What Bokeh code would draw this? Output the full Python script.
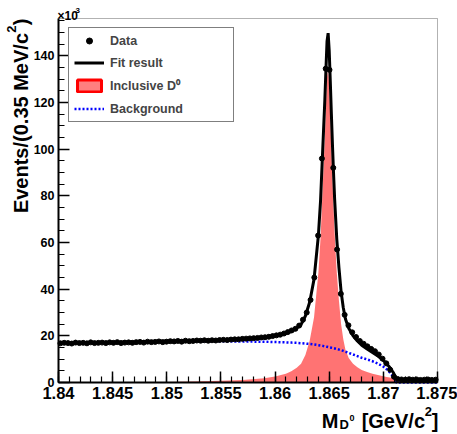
import numpy as np
from bokeh.plotting import figure
from bokeh.models import (FixedTicker, CustomJSTickFormatter, Label, Legend, LegendItem,
                          Range1d, BoxAnnotation)
from bokeh.embed import file_html
from bokeh.resources import INLINE

# ---- data (units of 10^3 events per 0.35 MeV/c^2 bin) ----
bin_lo = 1.84
bin_w = 0.00035
data_y = [16.8, 17.0, 16.9, 16.7, 17.1, 16.9, 17.0, 16.8, 17.2, 16.9,
          17.0, 17.1, 16.9, 17.2, 17.0, 17.3, 16.9, 17.1, 17.2, 17.0,
          17.3, 17.4, 17.1, 17.5, 17.3, 17.4, 17.6, 17.3, 17.5, 17.7,
          17.6, 17.8, 17.5, 17.9, 17.7, 17.8, 18.0, 17.9, 18.1, 17.9,
          18.1, 18.0, 18.2, 18.3, 18.2, 18.4, 18.5, 18.5, 18.7, 18.8,
          18.9, 19.0, 19.1, 19.3, 19.4, 19.6, 19.9, 20.2, 20.5, 21.0,
          21.6, 22.3, 23.0, 24.4, 26.9, 30.0, 35.4, 45.0, 63.0, 96.0,
          134.5, 134.0, 92.0, 57.0, 38.0, 29.0, 24.5, 21.5, 19.5, 17.8,
          16.6, 15.5, 14.4, 13.4, 12.0, 10.2, 8.2, 5.5, 2.5, 1.5,
          1.3, 1.2, 1.4, 1.2, 1.3, 1.1, 1.2, 1.3, 1.1, 1.2]
data_x = [bin_lo + (i + 0.5) * bin_w for i in range(len(data_y))]

model_x = [1.8400, 1.8425, 1.8450, 1.8475, 1.8500, 1.8525, 1.8550, 1.8570, 1.8590, 1.8600,
           1.8610, 1.8615, 1.8620, 1.8624, 1.8628, 1.8632, 1.8636, 1.8640, 1.8642, 1.8644,
           1.8646, 1.8647, 1.8648, 1.8649, 1.8650, 1.8651, 1.8652, 1.8653, 1.8654, 1.8655,
           1.8657, 1.8659, 1.8661, 1.8663, 1.8665, 1.8668, 1.8672, 1.8676, 1.8680, 1.8685,
           1.8690, 1.8695, 1.8700, 1.8703, 1.8706, 1.8709, 1.8711, 1.8712, 1.8720, 1.8750]
bkg_y = [16.9, 17.0, 17.2, 17.35, 17.5, 17.6, 17.65, 17.6, 17.45, 17.35,
         17.2, 17.1, 17.0, 16.85, 16.7, 16.5, 16.3, 16.0, 15.85, 15.7,
         15.5, 15.4, 15.3, 15.2, 15.1, 15.0, 14.9, 14.8, 14.7, 14.6,
         14.35, 14.1, 13.85, 13.55, 13.2, 12.7, 12.0, 11.3, 10.6, 9.9,
         9.1, 8.1, 6.8, 5.7, 4.3, 2.6, 1.1, 0.0, 0.0, 0.0]
sig_y = [0.0, 0.05, 0.1, 0.15, 0.25, 0.4, 0.7, 1.1, 1.8, 2.6,
         3.8, 4.8, 6.3, 8.0, 11.8, 18.0, 28.0, 47.0, 62.0, 84.0,
         106.0, 119.0, 131.0, 134.5, 127.0, 114.0, 100.0, 87.0, 75.0, 64.0,
         47.0, 35.0, 25.0, 18.5, 14.0, 10.5, 8.0, 6.5, 5.4, 4.5,
         3.8, 3.2, 2.7, 2.4, 2.1, 1.8, 1.5, 1.4, 1.3, 1.1]
fit_y = [16.9, 17.05, 17.3, 17.5, 17.75, 18.0, 18.35, 18.7, 19.25, 19.95,
         21.0, 21.9, 23.3, 24.85, 28.5, 34.5, 44.3, 63.0, 77.85, 99.7,
         121.5, 134.4, 146.3, 149.7, 142.1, 129.0, 114.9, 101.8, 89.7, 78.6,
         61.35, 49.1, 38.85, 32.05, 27.2, 23.2, 20.0, 17.8, 16.0, 14.4,
         12.9, 11.3, 9.5, 8.1, 6.4, 4.4, 2.6, 1.4, 1.3, 1.1]

x_ticks = [1.84, 1.845, 1.85, 1.855, 1.86, 1.865, 1.87, 1.875]
y_ticks = [0, 20, 40, 60, 80, 100, 120, 140]
X_MIN, X_MAX = 1.84, 1.875
Y_MIN, Y_MAX = 0.0, 156.0

FONT = "Liberation Sans"
W, H = 457, 434
# plot box inside the canvas (pixels): left, right, top, bottom
BL, BR, BT, BB = 58, 437, 18, 382
xs = (BR - BL) / (X_MAX - X_MIN)
ys = (BB - BT) / (Y_MAX - Y_MIN)
x_range = Range1d(X_MIN - BL / xs, X_MAX + (W - BR) / xs)
y_range = Range1d(Y_MIN - (H - BB) / ys, Y_MAX + BT / ys)

p = figure(width=W, height=H, output_backend="svg", toolbar_location=None,
           x_range=x_range, y_range=y_range, min_border=0)
p.xgrid.visible = False
p.ygrid.visible = False
p.background_fill_color = "white"
p.border_fill_color = "white"
p.outline_line_color = None

# frame box
p.add_layout(BoxAnnotation(left=X_MIN, right=X_MAX, bottom=Y_MIN, top=Y_MAX,
                           fill_alpha=0, line_color="black", line_width=1, level="underlay"))

# glyphs
r_sig = p.varea(x=model_x, y1=[0.0] * len(model_x), y2=sig_y, fill_color="red", fill_alpha=0.55)
r_bkg = p.line(model_x, bkg_y, line_color="#0000ff", line_width=2.5, line_dash="2 2")
r_data = p.scatter(data_x, data_y, size=5, marker="circle", fill_color="black", line_color="black")
r_fit = p.line(model_x, fit_y, line_color="black", line_width=3)
# legend-only swatch (not drawn: NaN geometry)
r_sig_leg = p.quad(left=[np.nan], right=[np.nan], top=[np.nan], bottom=[np.nan],
                   fill_color="red", fill_alpha=0.5, line_color="red", line_width=3)

# axes, pinned to the plot box
minor_x = [round(1.84 + 0.001 * i, 4) for i in range(36)]
p.xaxis.ticker = FixedTicker(ticks=x_ticks, minor_ticks=minor_x)
p.xaxis.formatter = CustomJSTickFormatter(code="return parseFloat(tick.toFixed(4)).toString();")
p.yaxis.ticker = FixedTicker(ticks=y_ticks, minor_ticks=list(range(0, 160, 5)))
p.xaxis.fixed_location = Y_MIN
p.yaxis.fixed_location = X_MIN
p.xaxis.bounds = (X_MIN, X_MAX)
p.yaxis.bounds = (Y_MIN, Y_MAX)
for ax in (p.xaxis[0], p.yaxis[0]):
    ax.axis_line_width = 2
    ax.axis_line_color = "black"
    ax.major_tick_in = 11
    ax.major_tick_out = 0
    ax.minor_tick_in = 6
    ax.minor_tick_out = 0
    ax.major_tick_line_width = 1.5
    ax.minor_tick_line_width = 1.2
    ax.major_tick_line_color = "black"
    ax.minor_tick_line_color = "black"
    ax.major_label_text_font = FONT
    ax.major_label_text_font_style = "bold"
    ax.major_label_text_color = "black"
    ax.major_label_standoff = 4
p.xaxis.major_label_text_font_size = "16.5px"
p.yaxis.major_label_text_font_size = "12.5px"

# axis titles and exponent (page px from the canvas top-left)
def lab(x, y, text, size, align="left", angle=0.0):
    p.add_layout(Label(x=x, y=H - y, x_units="screen", y_units="screen", text=text,
                       text_font=FONT, text_font_style="bold", text_font_size=size,
                       text_color="black", text_align=align, text_baseline="alphabetic",
                       angle=angle))

ROT = np.pi / 2
YT_X = 20
lab(YT_X, 18, ")", "20px", align="right", angle=ROT)
lab(YT_X - 9, 25, "2", "13px", align="right", angle=ROT)
lab(YT_X, 32.5, "Events/(0.35 MeV/c", "20px", align="right", angle=ROT)

lab(438, 420, "]", "20px", align="right")
lab(431.5, 411, "2", "13px", align="right")
lab(424.5, 420, "[GeV/c", "20px", align="right")
lab(338, 420, "M", "20px", align="right")
lab(339, 424, "D", "13px")
lab(349, 417, "0", "9px")
lab(57, 15, "×10", "12px")
lab(75, 10, "3", "8px")

legend = Legend(items=[LegendItem(label="Data", renderers=[r_data]),
                       LegendItem(label="Fit result", renderers=[r_fit]),
                       LegendItem(label="Inclusive D⁰", renderers=[r_sig_leg]),
                       LegendItem(label="Background", renderers=[r_bkg])],
                location=(68, H - 122), orientation="vertical",
                label_text_font=FONT, label_text_font_style="bold", label_text_font_size="12.5px",
                glyph_width=30, glyph_height=15, label_height=15, label_width=118,
                label_standoff=6, spacing=7, padding=5, margin=0,
                border_line_color="black", border_line_width=1,
                background_fill_color="white", background_fill_alpha=1.0)
p.add_layout(legend)

open("out.html", "w").write(file_html(p, INLINE))
